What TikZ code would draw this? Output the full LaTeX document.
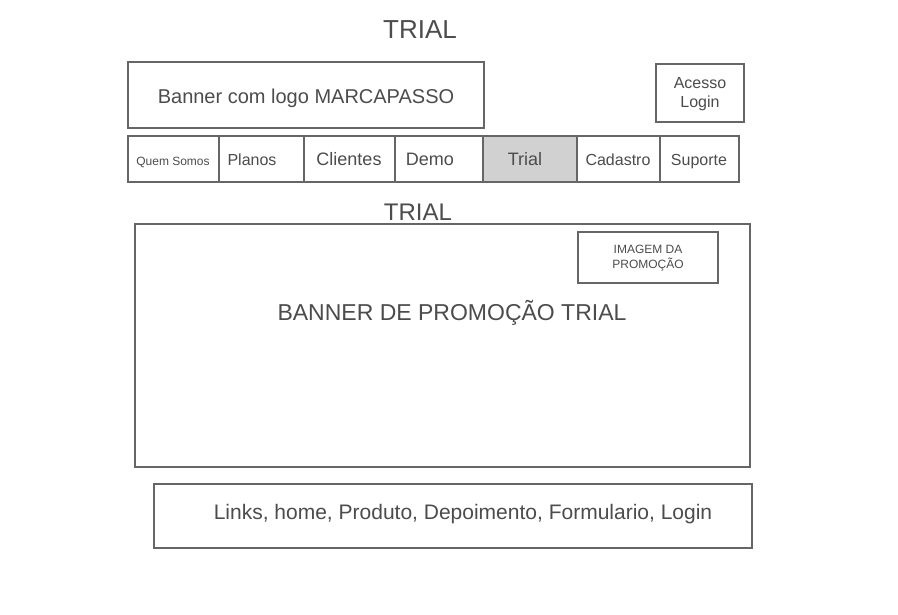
\documentclass[tikz,border=0pt]{standalone}
\usepackage{fontspec}
\setmainfont{Liberation Sans}
\begin{document}
\begin{tikzpicture}[x=1pt,y=-1pt,
  pencil/.style={draw=black!60, line width=1.1pt},
  hand/.style={text=black!70, inner sep=0pt},
  tab/.style={hand, anchor=base, font=\fontsize{16}{18}\selectfont}]
% page
\fill[white] (0,0) rectangle (898,615);
\useasboundingbox (0,0) rectangle (898,615);

% page title
\node[hand, font=\fontsize{26}{28}\selectfont] (title) at (420,30) {TRIAL};

% header: logo banner and login box
\draw[pencil] (128,62) rectangle (484,128);
\node[hand, font=\fontsize{20}{22}\selectfont] (banner) at (306,98) {Banner com logo MARCAPASSO};
\draw[pencil] (656,64) rectangle (744,122);
\node[hand, font=\fontsize{16}{19}\selectfont, align=center] (login) at (700,94) {Acesso\\Login};

% navigation bar
\fill[black!18] (483,137) rectangle (577,181);
\draw[pencil] (128,136) rectangle (739,182);
\foreach \xx in {219,304,395,483,577,660}
  \draw[pencil] (\xx,136) -- (\xx,182);
\node[tab, font=\fontsize{12}{14}\selectfont] (n1) at (173,166) {Quem Somos};
\node[tab] (n2) at (252,166) {Planos};
\node[tab, font=\fontsize{18}{20}\selectfont] (n3) at (349,166) {Clientes};
\node[tab, font=\fontsize{18}{20}\selectfont] (n4) at (430,166) {Demo};
\node[tab, font=\fontsize{18}{20}\selectfont] (n5) at (525,166) {Trial};
\node[tab] (n6) at (618,166) {Cadastro};
\node[tab] (n7) at (699,166) {Suporte};

% section title
\node[hand, font=\fontsize{24}{26}\selectfont] (sub) at (418,212) {TRIAL};

% promotion banner
\draw[pencil] (135,224) rectangle (750,467);
\draw[pencil] (578,232) rectangle (718,283);
\node[hand, font=\fontsize{12}{15}\selectfont, align=center] (img) at (648,258) {IMAGEM DA\\PROMOÇÃO};
\node[hand, font=\fontsize{23}{25}\selectfont] (promo) at (452,313) {BANNER DE PROMOÇÃO TRIAL};

% footer links
\draw[pencil] (154,484) rectangle (752,548);
\node[hand, font=\fontsize{21}{23}\selectfont] (links) at (463,514) {Links, home, Produto, Depoimento, Formulario, Login};
\end{tikzpicture}
\end{document}
